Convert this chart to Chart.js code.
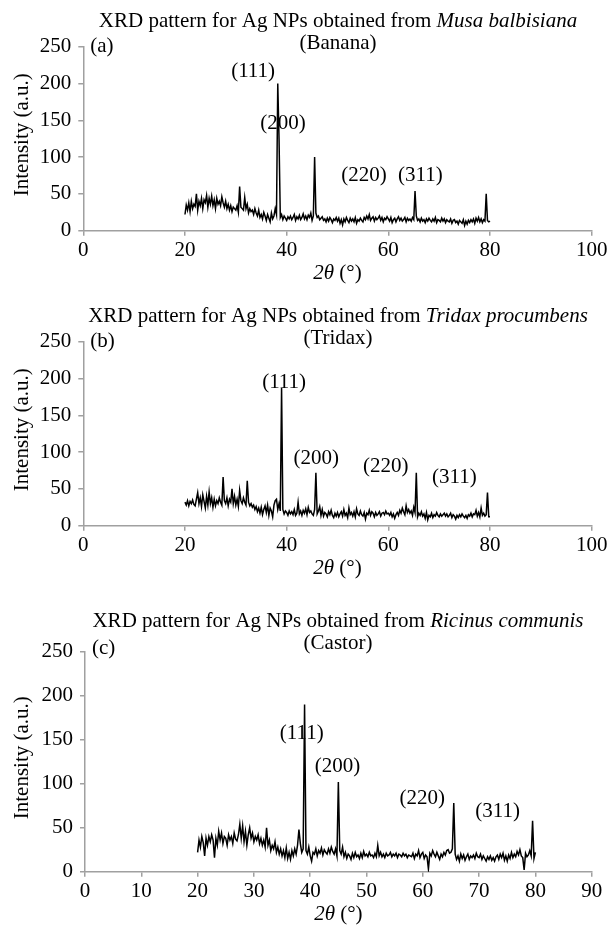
<!DOCTYPE html>
<html>
<head>
<meta charset="utf-8">
<script src="https://cdn.jsdelivr.net/npm/chart.js@4.4.1/dist/chart.umd.min.js"></script>
<style>
  html, body { margin: 0; padding: 0; background: #fff; }
  .panel { position: absolute; left: 0; width: 611px; }
</style>
</head>
<body>
<div class="panel" style="top:0px"><canvas id="grafico-a" width="611" height="295"></canvas></div>
<div class="panel" style="top:295px"><canvas id="grafico-b" width="611" height="295"></canvas></div>
<div class="panel" style="top:590px"><canvas id="grafico-c" width="611" height="345"></canvas></div>
<script>
// scan grid (2θ, degrees)
const TWO_THETA_START = 20;
const TWO_THETA_STEP = 0.25;

// intensities, one row per degree (20.00, 20.25, 20.50, 20.75)
const intensityBanana = [
  22, 35, 28, 38,  26, 40, 30, 36,  33, 50, 28, 40,  34, 44, 30, 42,  38, 48, 32, 44,
  36, 47, 34, 42,  30, 44, 36, 40,  34, 46, 38, 32,  40, 30, 36, 28,  34, 26, 32, 30,
  28, 34, 25, 60,  32, 30, 28, 45,  30, 36, 24, 30,  26, 28, 22, 30,  24, 20, 28, 18,
  22, 16, 25, 20,  14, 22, 17, 12,  24, 16, 20, 30,  22, 200, 125, 18, 22, 15, 20, 17,
  14, 19, 16, 20,  15, 18, 22, 14,  19, 16, 21, 15,  18, 23, 16, 20,  15, 21, 18, 24,
  14, 20, 100, 24, 18, 20, 15, 17,  19, 14, 16, 12,  17, 13, 18, 15,  11, 16, 14, 18,
  13, 17, 10, 15,  8, 16, 12, 18,   14, 11, 17, 13,  16, 12, 18, 10,  15, 13, 17, 14,
  12, 18, 15, 20,  16, 22, 14, 17,  19, 13, 18, 15,  17, 20, 14, 18,  12, 17, 15, 19,
  16, 13, 18, 11,  15, 17, 12, 16,  19, 14, 17, 13,  15, 18, 12, 17,  14, 16, 13, 18,
  15, 54, 20, 14,  16, 12, 17, 13,  15, 11, 16, 13,  17, 14, 12, 16,  13, 18, 11, 15,
  14, 12, 17, 13,  16, 11, 15, 13,  12, 16, 10, 14,  15, 11, 13, 9,   14, 12, 10, 15,
  7, 13, 9, 14,    11, 15, 12, 16,  10, 17, 13, 18,  12, 16, 11, 15,  13, 50, 14, 12,
  13
];

const intensityTridax = [
  32, 28, 34, 27,  33, 30, 35, 29,  27, 36, 45, 30,  38, 26, 42, 33,  24, 40, 28, 46,
  30, 38, 25, 36,  27, 34, 30, 38,  32, 28, 66, 34,  30, 38, 27, 36,  32, 50, 30, 40,
  28, 36, 26, 48,  34, 30, 38, 32,  28, 61, 32, 27,  30, 25, 28, 22,  26, 19, 24, 17,
  25, 15, 22, 27,  18, 28, 14, 24,  20, 12, 28, 34,  36, 22, 30, 20,  187, 22, 16, 20,
  18, 14, 20, 16,  19, 15, 22, 14,  17, 32, 16, 20,  14, 21, 17, 23,  15, 25, 18, 20,
  16, 14, 22, 72,  16, 20, 26, 14,  22, 13, 18, 16,  12, 19, 15, 21,  14, 11, 17, 13,
  18, 12, 16, 19,  13, 22, 14, 17,  11, 24, 15, 18,  13, 19, 12, 23,  16, 14, 20, 15,
  13, 18, 9, 17,   15, 21, 14, 19,  17, 12, 18, 14,  16, 19, 13, 17,  18, 15, 20, 16,
  17, 14, 18, 12,  16, 10, 15, 18,  14, 21, 17, 24,  19, 15, 27, 18,  22, 17, 20, 14,
  25, 18, 72, 12,  17, 14, 19, 13,  16, 10, 18, 8,   14, 12, 17, 11,  15, 13, 18, 14,
  12, 16, 13, 15,  17, 13, 16, 12,  14, 17, 11, 15,  13, 9, 14, 11,   15, 12, 16, 13,
  11, 14, 10, 15,  13, 17, 12, 16,  15, 21, 13, 18,  12, 24, 14, 17,  13, 15, 45, 12,
  12
];

const intensityCastor = [
  22, 36, 28, 40,  33, 18, 38, 30,  40, 34, 42, 36,  16, 38, 30, 46,  36, 44, 32, 40,
  38, 30, 42, 36,  40, 32, 44, 37,  35, 42, 54, 38,  52, 34, 46, 30,  42, 50, 38, 44,
  34, 40, 36, 42,  32, 38, 30, 36,  28, 50, 30, 36,  24, 30, 26, 34,  22, 28, 20, 26,
  18, 24, 16, 27,  15, 22, 14, 24,  18, 26, 20, 30,  48, 32, 22, 26,  190, 24, 20, 28,
  18, 12, 22, 20,  26, 18, 24, 21,  27, 19, 25, 22,  20, 26, 21, 28,  23, 20, 26, 18,
  102, 24, 20, 28, 17, 22, 15, 20,  18, 14, 21, 16,  22, 17, 19, 15,  21, 16, 23, 18,
  20, 17, 22, 18,  19, 16, 21, 17,  30, 18, 22, 17,  20, 16, 21, 18,  19, 22, 17, 20,
  18, 21, 16, 20,  19, 17, 21, 18,  20, 16, 19, 18,  17, 21, 15, 20,  18, 24, 16, 20,
  22, 15, 19, 17,  3, 21, 18, 24,   20, 17, 22, 18,  14, 20, 17, 22,  19, 24, 25, 21,
  22, 26, 78, 20,  14, 18, 12, 20,  15, 19, 13, 17,  20, 14, 18, 16,  19, 15, 21, 17,
  16, 20, 14, 18,  15, 12, 17, 14,  18, 13, 16, 12,  17, 19, 14, 20,  16, 21, 13, 18,
  12, 19, 15, 22,  16, 20, 17, 23,  19, 25, 18, 16,  2, 21, 17, 19,   24, 18, 58, 15,
  22
];

// peak labels: text, 2θ, intensity where the label sits
const labelsBanana = [['(111)', 33.4, 216], ['(200)', 39.3, 146], ['(220)', 55.2, 75], ['(311)', 66.3, 75]];
const labelsTridax = [['(111)', 39.5, 194], ['(200)', 45.8, 92], ['(220)', 59.5, 80], ['(311)', 73.0, 65]];
const labelsCastor = [['(111)', 38.5, 157], ['(200)', 44.85, 119], ['(220)', 59.9, 83], ['(311)', 73.3, 68]];

const FONT = '"Liberation Serif", "Times New Roman", serif';
const AXIS_GREY = '#a0a0a0';
const TXT = '21px ';

function pontos(valores) {
    return valores.map((v, i) => ({ x: TWO_THETA_START + i * TWO_THETA_STEP, y: v }));
}

function desenhaMisto(ctx, partes, cx, cy) {
    let total = 0;
    partes.forEach(p => {
        ctx.font = (p[1] ? 'italic ' : '') + TXT + FONT;
        total += ctx.measureText(p[0]).width;
    });
    let x = cx - total / 2;
    ctx.textAlign = 'left';
    partes.forEach(p => {
        ctx.font = (p[1] ? 'italic ' : '') + TXT + FONT;
        ctx.fillText(p[0], x, cy);
        x += ctx.measureText(p[0]).width;
    });
}

const textosPlugin = {
    id: 'textos',
    afterDraw(chart, args, o) {
        const { ctx, chartArea, scales } = chart;
        ctx.save();
        ctx.fillStyle = '#000';
        ctx.textBaseline = 'middle';

        // title, two lines
        desenhaMisto(ctx, [['XRD pattern for Ag NPs obtained from ', false], [o.especie, true]], 338, o.tituloY);
        desenhaMisto(ctx, [[o.nomeComum, false]], 338, o.tituloY + 21.5);

        // panel letter
        ctx.font = TXT + FONT;
        ctx.textAlign = 'left';
        ctx.fillText(o.letra, chartArea.left + 7, o.letraY);

        // peak labels
        ctx.textAlign = 'center';
        o.picos.forEach(p => {
            ctx.fillText(p[0], scales.x.getPixelForValue(p[1]), scales.y.getPixelForValue(p[2]));
        });

        // x axis title
        desenhaMisto(ctx, [['2θ', true], [' (°)', false]], (chartArea.left + chartArea.right) / 2, chartArea.bottom + 42.5);

        // y axis title
        ctx.translate(22, (chartArea.top + chartArea.bottom) / 2 - 4);
        ctx.rotate(-Math.PI / 2);
        ctx.font = TXT + FONT;
        ctx.textAlign = 'center';
        ctx.fillText('Intensity (a.u.)', 0, 0);
        ctx.restore();
    }
};

function criaGrafico(id, valores, cfg) {
    const ctx = document.getElementById(id).getContext('2d');
    const h = ctx.canvas.height;
    return new Chart(ctx, {
        type: 'line',
        data: {
            datasets: [{
                data: pontos(valores),
                borderColor: '#000',
                borderWidth: 1.5,
                pointRadius: 0,
                tension: 0,
                fill: false
            }]
        },
        options: {
            responsive: false,
            animation: false,
            layout: { padding: { left: 0, right: 611 - cfg.right, top: cfg.top, bottom: 0 } },
            plugins: {
                legend: { display: false },
                tooltip: { enabled: false },
                textos: {
                    especie: cfg.especie,
                    nomeComum: cfg.nomeComum,
                    letra: cfg.letra,
                    tituloY: cfg.tituloY,
                    letraY: cfg.letraY,
                    picos: cfg.picos
                }
            },
            scales: {
                x: {
                    type: 'linear',
                    min: 0,
                    max: cfg.xMax,
                    afterFit: s => { s.height = h - cfg.bottom; },
                    ticks: { stepSize: cfg.xStep, color: '#000', font: { family: FONT, size: 21 }, padding: 2, maxRotation: 0 },
                    grid: { display: true, drawOnChartArea: false, drawTicks: true, tickLength: 5, color: AXIS_GREY, lineWidth: 1.5 },
                    border: { display: true, color: AXIS_GREY, width: 1.5 }
                },
                y: {
                    min: 0,
                    max: 250,
                    afterFit: s => { s.width = cfg.left; },
                    ticks: { stepSize: 50, color: '#000', font: { family: FONT, size: 21 }, padding: 7 },
                    grid: { display: true, drawOnChartArea: false, drawTicks: true, tickLength: 5, color: AXIS_GREY, lineWidth: 1.5 },
                    border: { display: true, color: AXIS_GREY, width: 1.5 }
                }
            }
        },
        plugins: [textosPlugin]
    });
}

criaGrafico('grafico-a', intensityBanana, {
    especie: 'Musa balbisiana', nomeComum: '(Banana)', letra: '(a)',
    left: 83.3, right: 591.7, top: 46.7, bottom: 230.7,
    tituloY: 21.7, letraY: 46.7, xMax: 100, xStep: 20, picos: labelsBanana
});

criaGrafico('grafico-b', intensityTridax, {
    especie: 'Tridax procumbens', nomeComum: '(Tridax)', letra: '(b)',
    left: 83.3, right: 591.7, top: 46.7, bottom: 230.7,
    tituloY: 21.7, letraY: 46.7, xMax: 100, xStep: 20, picos: labelsTridax
});

criaGrafico('grafico-c', intensityCastor, {
    especie: 'Ricinus communis', nomeComum: '(Castor)', letra: '(c)',
    left: 85, right: 591.7, top: 61.7, bottom: 281.7,
    tituloY: 31.7, letraY: 58.5, xMax: 90, xStep: 10, picos: labelsCastor
});
</script>
</body>
</html>
